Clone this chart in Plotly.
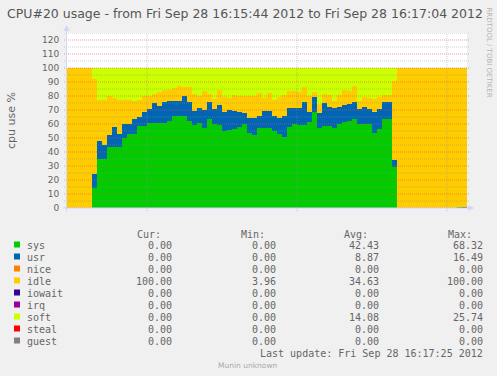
import numpy as np
import plotly.graph_objects as go

# ---------------- data (seconds since Fri Sep 28 16:15:44 2012) ----------------
seconds = list(range(80))

sys_vals = [0, 0, 0, 0, 0,
            14, 35, 35, 43.3, 43.3, 43.3, 49.8, 53, 53, 58.8, 58.8, 60.5, 60.5, 60.5, 60.5,
            62, 66, 66, 65.5, 62, 59, 61, 57, 63.6, 60, 59, 54.8, 56, 56.4, 57.6, 60,
            53.5, 52.1, 56.9, 56.9, 56.9, 55.2, 52.9, 50.5, 57.6, 60, 59.3, 59.3, 61.7, 68.3,
            57, 58.3, 58.5, 56.9, 60, 61.2, 62.4, 63.6, 60, 60, 60, 53.6, 56.4, 63.6, 63.6, 29,
            0, 0, 0, 0, 0, 0, 0, 0, 0, 0, 0, 0, 1, 0]
usr_vals = [0, 0, 0, 0, 0,
            10.3, 13, 10, 8.7, 14.3, 9.6, 10.2, 7, 10.6, 6, 9.5, 10.2, 14.5, 12.1, 15.5,
            14.7, 10.7, 10.7, 14.3, 14, 10.5, 10.2, 13.2, 12.4, 10.7, 14.6, 13.5, 14.2, 13.1, 10.7, 7.9,
            10.5, 11.9, 9.1, 12.6, 12.6, 10.3, 11.1, 15.5, 13.6, 11.2, 11.9, 16.5, 6.6, 10.7,
            11, 16.4, 13.4, 14.3, 11.9, 12.4, 11.9, 12.4, 10.7, 11.9, 10.7, 14.7, 14.3, 12.4, 12.4, 5,
            0, 0, 0, 0, 0, 0, 0, 0, 0, 0, 0, 0, 0, 1]
idle_vals = [100, 100, 100, 100, 100,
             67.7, 29.4, 32.4, 27.8, 20.7, 24.5, 17.4, 17.4, 13.1, 12.6, 11.5, 9.5, 6.4, 10.4, 8.5,
             7.3, 9.3, 10.3, 6.4, 10.2, 11.9, 8.6, 13.6, 5.4, 7.2, 10.9, 10.7, 8.1, 11.2, 11.5, 11.9,
             16.2, 16.2, 16, 8.8, 12.5, 11.9, 15, 14.7, 12.6, 12.6, 11.8, 10.4, 11.9, 3.96,
             6.3, 6.7, 9.1, 5.5, 8.8, 10.9, 9.5, 11, 6, 7.1, 7.6, 9.6, 8.3, 4.7, 4.7, 57,
             100, 100, 100, 100, 100, 100, 100, 100, 100, 100, 100, 100, 99, 99]
soft_vals = [0, 0, 0, 0, 0,
             8, 22.6, 22.6, 20.2, 21.7, 22.6, 22.6, 22.6, 23.3, 22.6, 20.2, 19.8, 18.6, 17, 15.5,
             16, 14, 13, 13.8, 13.8, 18.6, 20.2, 16.2, 18.6, 22.1, 15.5, 21, 21.7, 19.3, 20.2, 20.2,
             19.8, 19.8, 18, 21.7, 18, 22.6, 21, 19.3, 16.2, 16.2, 17, 13.8, 19.8, 17.04,
             25.7, 18.6, 19, 23.3, 19.3, 15.5, 16.2, 13, 23.3, 21, 21.7, 22.1, 21, 19.3, 19.3, 9,
             0, 0, 0, 0, 0, 0, 0, 0, 0, 0, 0, 0, 0, 0]
zero_vals = [0] * 80

series_names = ["sys", "usr", "nice", "idle", "iowait", "irq", "soft", "steal", "guest"]
series_colors = ["#00CC00", "#0066B3", "#FF8000", "#FFCC00", "#330099",
                 "#990099", "#CCFF00", "#FF0000", "#808080"]
series_values = [sys_vals, usr_vals, zero_vals, idle_vals, zero_vals,
                 zero_vals, soft_vals, zero_vals, zero_vals]

stat_cur = [0.00, 0.00, 0.00, 100.00, 0.00, 0.00, 0.00, 0.00, 0.00]
stat_min = [0.00, 0.00, 0.00, 3.96, 0.00, 0.00, 0.00, 0.00, 0.00]
stat_avg = [42.43, 8.87, 0.00, 34.63, 0.00, 0.00, 14.08, 0.00, 0.00]
stat_max = [68.32, 16.49, 0.00, 100.00, 0.00, 0.00, 25.74, 0.00, 0.00]

y_ticks = [0, 10, 20, 30, 40, 50, 60, 70, 80, 90, 100, 110, 120]
y_minor = [5, 15, 25, 35, 45, 55, 65, 75, 85, 95, 105, 115, 125]
x_grid = [16, 46, 76]   # 16:16:00, 16:16:30, 16:17:00

title_text = "CPU#20 usage - from Fri Sep 28 16:15:44 2012 to Fri Sep 28 16:17:04 2012"

# ---------------- geometry helpers (pixel -> paper) ----------------
W, H = 497, 376
L, R, T, B = 67, 30, 33, 168
PW, PH = W - L - R, H - T - B


def X(px):
    return (px - L) / PW


def Y(py):
    return (H - B - py) / PH


FONT = "DejaVu Sans"
MONO = "DejaVu Sans Mono"
TXT = "#666666"
AXISC = "#CFD6F8"

fig = go.Figure()
xc = np.array(seconds) + 0.5
for name, vals, col in zip(series_names, series_values, series_colors):
    fig.add_trace(go.Bar(x=xc, y=vals, width=1, name=name, showlegend=False,
                         marker=dict(color=col, line=dict(width=0)), hoverinfo="skip"))

shapes = []
# grid lines drawn above data (as rrdtool does)
for v in y_minor:
    shapes.append(dict(type="line", xref="paper", yref="y", x0=X(64), x1=X(469), y0=v, y1=v,
                       line=dict(color="rgba(143,143,143,0.45)", width=1, dash="1px,1px"), layer="above"))
for v in y_ticks:
    shapes.append(dict(type="line", xref="paper", yref="y", x0=X(64), x1=X(469), y0=v, y1=v,
                       line=dict(color="rgba(232,80,80,0.55)", width=1, dash="1px,1px"), layer="above"))
for v in x_grid:
    shapes.append(dict(type="line", xref="x", yref="paper", x0=v, x1=v, y0=Y(211), y1=1,
                       line=dict(color="rgba(143,143,143,0.45)", width=1, dash="1px,1px"), layer="above"))
# axes with arrows
shapes.append(dict(type="line", xref="paper", yref="paper", x0=X(66.5), x1=X(66.5), y0=Y(212), y1=Y(30),
                   line=dict(color=AXISC, width=1), layer="above"))
shapes.append(dict(type="path", xref="paper", yref="paper",
                   path=f"M {X(63.5)} {Y(31)} L {X(66.5)} {Y(25)} L {X(69.5)} {Y(31)} Z",
                   fillcolor=AXISC, line=dict(width=0), layer="above"))
shapes.append(dict(type="line", xref="paper", yref="paper", x0=X(63), x1=X(469), y0=Y(208), y1=Y(208),
                   line=dict(color=AXISC, width=1), layer="above"))
shapes.append(dict(type="path", xref="paper", yref="paper",
                   path=f"M {X(468)} {Y(205)} L {X(474)} {Y(208)} L {X(468)} {Y(211)} Z",
                   fillcolor=AXISC, line=dict(width=0), layer="above"))

annotations = []


def txt(text, px, py, size, family=FONT, color=TXT, anchor="left", angle=0):
    annotations.append(dict(text=text, x=X(px), y=Y(py), xref="paper", yref="paper",
                            xanchor=anchor, yanchor="middle", showarrow=False,
                            textangle=angle, borderpad=0, borderwidth=0,
                            font=dict(family=family, size=size, color=color)))


txt(title_text, 7, 13.5, 12.5, color="#555555")
txt("cpu use %", 11, 120, 11, anchor="center", angle=-90)
txt("RRDTOOL / TOBI OETIKER", 488.5, 52, 7, color="#B4B4B4", anchor="center", angle=90)

col_right = [172, 276, 379, 483]
for hdr, cr in zip(["Cur:", "Min:", "Avg:", "Max:"], col_right):
    txt(hdr, cr - 35.5, 234, 10, family=MONO)

for i, name in enumerate(series_names):
    ry = 245 + 12 * i
    shapes.append(dict(type="rect", xref="paper", yref="paper", x0=X(14), x1=X(20),
                       y0=Y(ry + 2.5), y1=Y(ry - 3.5), fillcolor=series_colors[i], line=dict(width=0)))
    txt(name, 26.5, ry, 10, family=MONO)
    for vals, cr in zip([stat_cur, stat_min, stat_avg, stat_max], col_right):
        txt(f"{vals[i]:.2f}", cr, ry, 10, family=MONO, anchor="right")

txt("Last update: Fri Sep 28 16:17:25 2012", 483, 353, 10, family=MONO, anchor="right")
txt("Munin unknown", 248, 365.5, 7.5, color="#AAAAAA", anchor="center")

fig.update_layout(
    width=W, height=H, margin=dict(l=L, r=R, t=T, b=B, pad=0),
    paper_bgcolor="#F0F0F0", plot_bgcolor="#FFFFFF",
    barmode="stack", bargap=0, bargroupgap=0,
    shapes=shapes, annotations=annotations,
    xaxis=dict(range=[0, 80], tickvals=x_grid, showticklabels=False, showgrid=False,
               zeroline=False, showline=False, ticks=""),
    yaxis=dict(range=[0, 125], tickvals=y_ticks, showgrid=False, zeroline=False, showline=False,
               ticks="outside", ticklen=5, tickcolor="rgba(0,0,0,0)",
               tickfont=dict(family=FONT, size=9, color=TXT)),
    font=dict(family=FONT, color=TXT),
)

fig.write_html("out.html")
